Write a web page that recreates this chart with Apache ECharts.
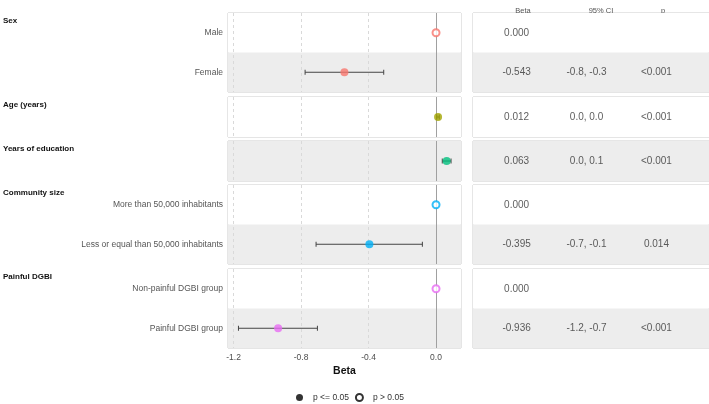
<!DOCTYPE html>
<html>
<head>
<meta charset="utf-8">
<script src="https://cdn.jsdelivr.net/npm/echarts@6/dist/echarts.min.js"></script>
<style>
html,body{margin:0;padding:0;background:#fff;}
#chart{width:709px;height:404px;}
</style>
</head>
<body>
<div id="chart"></div>
<script>
// ---- data ----
const groups = ['Sex', 'Age (years)', 'Years of education', 'Community size', 'Painful DGBI'];
const groupColors = ['#F8766D', '#A3A500', '#00BF7D', '#00B0F6', '#E76BF3'];
const rowGroup = [0, 0, 1, 2, 3, 3, 4, 4];
const rowLabel = ['Male', 'Female', '', '', 'More than 50,000 inhabitants', 'Less or equal than 50,000 inhabitants', 'Non-painful DGBI group', 'Painful DGBI group'];
const beta = [0.000, -0.543, 0.012, 0.063, 0.000, -0.395, 0.000, -0.936];
const ciLow = [null, -0.776, 0.005, 0.037, null, -0.711, null, -1.171];
const ciHigh = [null, -0.310, 0.019, 0.089, null, -0.081, null, -0.703];
const significant = [false, true, true, true, false, true, false, true];
const betaText = ['0.000', '-0.543', '0.012', '0.063', '0.000', '-0.395', '0.000', '-0.936'];
const ciText = ['', '-0.8, -0.3', '0.0, 0.0', '0.0, 0.1', '', '-0.7, -0.1', '', '-1.2, -0.7'];
const pText = ['', '<0.001', '<0.001', '<0.001', '', '0.014', '', '<0.001'];
const xTicks = [-1.2, -0.8, -0.4, 0.0];
const tableHeaders = ['Beta', '95% CI', 'p'];
const legendNames = ['p <= 0.05', 'p > 0.05'];

// ---- layout ----
const FONT = 'Liberation Sans, Arial, sans-serif';
const panelTop = [13, 97, 141, 185, 269];
const rowH = 39.5;
const plotLeft = 228, plotWidth = 233;
const tableLeft = 473;
const shadeA = '#ffffff', shadeB = '#ededed';
const xMin = -1.233, xMax = 0.148;
const tMin = 0.376, tMax = 3.752;
const headerX = [523, 601, 663];

const grids = [], xAxes = [], yAxes = [], series = [], titles = [];
groups.forEach((g, gi) => {
  const rows = [];
  rowGroup.forEach((rg, ri) => { if (rg === gi) rows.push(ri); });
  const n = rows.length;
  const h = Math.round(n * rowH);
  const colors = (rows[0] % 2 === 0) ? [shadeA, shadeB] : [shadeB, shadeA];
  const last = gi === groups.length - 1;

  grids.push({left: plotLeft, top: panelTop[gi], width: plotWidth, height: h, show: true,
    borderColor: '#cccccc', borderWidth: 1, backgroundColor: 'transparent'});
  grids.push({left: tableLeft, top: panelTop[gi], right: -3, height: h, show: true,
    borderColor: '#cccccc', borderWidth: 1, backgroundColor: 'transparent'});
  const pg = gi * 2, tg = gi * 2 + 1;

  xAxes.push({gridIndex: pg, type: 'value', min: xMin, max: xMax,
    axisLine: {show: false}, axisTick: {show: false}, splitLine: {show: false},
    axisLabel: {show: last, customValues: xTicks, formatter: v => v.toFixed(1),
      color: '#4d4d4d', fontSize: 8.5, fontFamily: FONT, margin: 5},
    name: last ? 'Beta' : '', nameLocation: 'middle', nameGap: 18,
    nameTextStyle: {fontSize: 10.5, fontWeight: 'bold', color: '#111', fontFamily: FONT}});
  xAxes.push({gridIndex: tg, type: 'value', min: tMin, max: tMax, show: false});

  const cats = rows.map(r => rowLabel[r]);
  yAxes.push({gridIndex: pg, type: 'category', data: cats, inverse: true,
    axisLine: {show: false}, axisTick: {show: false}, splitLine: {show: false},
    splitArea: {show: true, areaStyle: {color: colors}},
    axisLabel: {color: '#555', fontSize: 8.5, fontFamily: FONT, margin: 5}});
  yAxes.push({gridIndex: tg, type: 'category', data: cats, inverse: true,
    axisLine: {show: false}, axisTick: {show: false}, splitLine: {show: false},
    splitArea: {show: true, areaStyle: {color: colors}}, axisLabel: {show: false}});

  const ml = xTicks.map(v => ({xAxis: v, lineStyle: v === 0
    ? {type: 'solid', color: '#a0a0a0', width: 1}
    : {type: [3, 3], color: '#d9d9d9', width: 1}}));

  series.push({type: 'custom', xAxisIndex: pg, yAxisIndex: pg, z: 3, silent: true,
    data: rows.filter(r => ciLow[r] !== null).map(r => [ciLow[r], ciHigh[r], rows.indexOf(r)]),
    encode: {x: [0, 1], y: 2},
    renderItem: (params, api) => {
      const p1 = api.coord([api.value(0), api.value(2)]);
      const p2 = api.coord([api.value(1), api.value(2)]);
      const st = {stroke: '#444', lineWidth: 1};
      return {type: 'group', children: [
        {type: 'line', shape: {x1: p1[0], y1: p1[1], x2: p2[0], y2: p2[1]}, style: st},
        {type: 'line', shape: {x1: p1[0], y1: p1[1] - 2.5, x2: p1[0], y2: p1[1] + 2.5}, style: st},
        {type: 'line', shape: {x1: p2[0], y1: p2[1] - 2.5, x2: p2[0], y2: p2[1] + 2.5}, style: st}
      ]};
    }});

  series.push({type: 'scatter', xAxisIndex: pg, yAxisIndex: pg, z: 5, silent: true,
    data: rows.map((r, i) => ({
      value: [beta[r], i],
      symbolSize: significant[r] ? 8 : 7,
      itemStyle: significant[r]
        ? {color: groupColors[gi]}
        : {color: '#ffffff', borderColor: groupColors[gi], borderWidth: 2}
    })),
    markLine: {silent: true, symbol: 'none', label: {show: false}, z: 1, data: ml}
  });

  const tdata = [];
  rows.forEach((r, i) => {
    tdata.push([1, i, betaText[r]]);
    tdata.push([2, i, ciText[r]]);
    tdata.push([3, i, pText[r]]);
  });
  series.push({type: 'scatter', xAxisIndex: tg, yAxisIndex: tg, symbolSize: 0, silent: true,
    data: tdata,
    label: {show: true, position: 'inside', formatter: p => p.data[2],
      color: '#333', fontSize: 10, fontFamily: FONT}});

  titles.push({text: g, left: 3, top: panelTop[gi] + 4, padding: 0,
    textStyle: {fontSize: 8, fontWeight: 'bold', color: '#111', fontFamily: FONT}});
});

series.push({type: 'scatter', name: legendNames[0], data: [], xAxisIndex: 0, yAxisIndex: 0,
  itemStyle: {color: '#000'}});
series.push({type: 'scatter', name: legendNames[1], data: [], xAxisIndex: 0, yAxisIndex: 0,
  itemStyle: {color: '#fff', borderColor: '#000', borderWidth: 2}});

const graphics = tableHeaders.map((t, i) => ({type: 'text', x: headerX[i], y: 11,
  style: {text: t, fill: '#555', fontSize: 7.5, fontFamily: FONT, textAlign: 'center', textVerticalAlign: 'middle'}}));

const chart = echarts.init(document.getElementById('chart'), null, {renderer: 'canvas'});
chart.setOption({
  animation: false,
  backgroundColor: '#fff',
  title: titles,
  grid: grids,
  xAxis: xAxes,
  yAxis: yAxes,
  series: series,
  graphic: graphics,
  legend: {data: legendNames.map(n => ({name: n, icon: 'circle'})), left: 296, top: 393,
    itemWidth: 7, itemHeight: 7, itemGap: 6, padding: 0,
    textStyle: {fontSize: 8.5, color: '#333', fontFamily: FONT, padding: [0, 0, 0, 5]}, selectedMode: false}
});
</script>
</body>
</html>
